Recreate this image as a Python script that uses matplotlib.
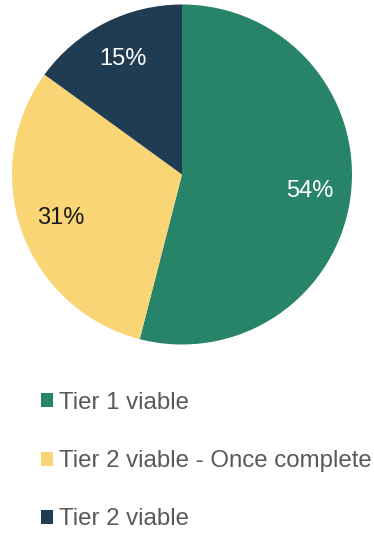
import matplotlib.pyplot as plt
from matplotlib.patches import Patch

plt.rcParams['font.family'] = ['Liberation Sans', 'DejaVu Sans']

labels = ['Tier 1 viable', 'Tier 2 viable - Once complete', 'Tier 2 viable']
shares = [54, 31, 15]
colors = ['#278469', '#F9D575', '#1F3C52']
text_colors = ['white', '#1a1a1a', 'white']

fig = plt.figure(figsize=(3.74, 5.33), dpi=100)
ax = fig.add_axes([12 / 374, 188.5 / 533, 340 / 374, 340 / 533])

wedges, texts, autotexts = ax.pie(
    shares, colors=colors, startangle=90, counterclock=False,
    autopct='%d%%', pctdistance=0.76,
    wedgeprops=dict(linewidth=0),
    textprops=dict(fontsize=17))
for t, c in zip(autotexts, text_colors):
    t.set_color(c)
ax.set_xlim(-1, 1)
ax.set_ylim(-1, 1)
ax.set_aspect('equal')

handles = [Patch(facecolor=c, edgecolor='none') for c in colors]
fig.legend(handles, labels, loc='upper left', bbox_to_anchor=(41 / 374, 1 - 392 / 533),
           frameon=False, fontsize=17.3, labelcolor='#595959',
           handlelength=0.52, handleheight=0.52, handletextpad=0.22,
           labelspacing=1.5, borderpad=0, borderaxespad=0)

fig.savefig('out.png', dpi=100)
